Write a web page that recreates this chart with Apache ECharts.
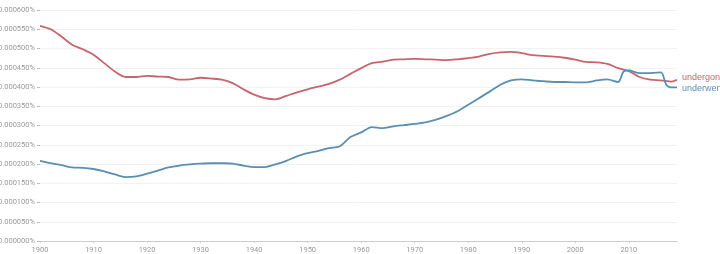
<!DOCTYPE html>
<html><head><meta charset="utf-8">
<script src="https://cdn.jsdelivr.net/npm/echarts@6/dist/echarts.min.js"></script>
<style>html,body{margin:0;padding:0;background:#fff}#c{width:720px;height:254px}</style>
</head><body><div id="c"></div>
<script>
const redYears = [1900,1902,1904,1906,1908,1910,1912,1914,1916,1918,1920,1922,1924,1926,1928,1930,1932,1934,1936,1938,1940,1942,1944,1946,1948,1950,1952,1954,1956,1958,1960,1962,1964,1966,1968,1970,1972,1974,1976,1978,1980,1982,1984,1986,1988,1990,1992,1994,1996,1998,2000,2002,2004,2006,2008,2010,2012,2014,2016,2018,2019];
const undergone = [0.000559,0.000550,0.000531,0.000510,0.000498,0.000484,0.000462,0.000440,0.000426,0.000426,0.000429,0.000427,0.000426,0.000419,0.000420,0.000424,0.000422,0.000419,0.000410,0.000394,0.000380,0.000371,0.000368,0.000377,0.000386,0.000394,0.000401,0.000408,0.000419,0.000434,0.000449,0.000462,0.000466,0.000471,0.000472,0.000473,0.000472,0.000471,0.000470,0.000472,0.000475,0.000479,0.000486,0.000490,0.000491,0.000488,0.000483,0.000481,0.000479,0.000476,0.000471,0.000465,0.000464,0.000460,0.000449,0.000441,0.000426,0.000419,0.000417,0.000414,0.000419];
const blueYears = [1900,1902,1904,1906,1908,1910,1912,1914,1916,1918,1920,1922,1924,1926,1928,1930,1932,1934,1936,1938,1940,1942,1944,1946,1948,1950,1952,1954,1956,1958,1960,1962,1964,1966,1968,1970,1972,1974,1976,1978,1980,1982,1984,1986,1988,1990,1992,1994,1996,1998,2000,2002,2004,2006,2008,2009,2010,2012,2014,2016,2017,2018,2019];
const underwent = [0.000208,0.000202,0.000197,0.000191,0.000190,0.000187,0.000181,0.000173,0.000166,0.000168,0.000175,0.000183,0.000191,0.000196,0.000199,0.000201,0.000202,0.000202,0.000201,0.000196,0.000192,0.000192,0.000199,0.000208,0.000220,0.000228,0.000234,0.000241,0.000246,0.000270,0.000282,0.000296,0.000293,0.000298,0.000301,0.000304,0.000308,0.000315,0.000325,0.000337,0.000354,0.000371,0.000388,0.000406,0.000417,0.000420,0.000417,0.000415,0.000413,0.000413,0.000412,0.000412,0.000417,0.000420,0.000413,0.000440,0.000443,0.000436,0.000436,0.000438,0.000406,0.000399,0.000399];
const seriesNames = ['undergone','underwent'];

const chart = echarts.init(document.getElementById('c'));
const pair = (xs, ys) => xs.map((x, i) => [x, ys[i]]);
chart.setOption({
  animation: false,
  backgroundColor: '#fff',
  grid: {left: 40, right: 43, top: 10, bottom: 13, containLabel: false, outerBoundsMode: 'none'},
  xAxis: {
    type: 'value', min: 1900, max: 2019, interval: 10,
    axisLine: {lineStyle: {color: '#cccccc'}},
    axisTick: {show: true, length: 2, lineStyle: {color: '#cccccc'}},
    axisLabel: {fontSize: 7.5, color: '#999', margin: 5, showMaxLabel: false, fontFamily: 'Roboto',
      formatter: v => String(v)},
    splitLine: {show: false}
  },
  yAxis: {
    type: 'value', min: 0, max: 0.0006, interval: 0.00005,
    axisLine: {show: false},
    axisTick: {show: true, length: 3, lineStyle: {color: '#bbb'}},
    axisLabel: {fontSize: 7.5, color: '#999', margin: 5, fontFamily: 'Roboto',
      formatter: v => v.toFixed(6) + '%'},
    splitLine: {lineStyle: {color: '#f2f2f2'}}
  },
  series: [
    {name: seriesNames[0], type: 'line', data: pair(redYears, undergone), smooth: 0.3, symbol: 'none',
     lineStyle: {color: '#c6656d', width: 1.8},
     endLabel: {show: true, formatter: '{a}', color: '#c6656d', fontSize: 9, distance: 5, offset: [0, -2]}},
    {name: seriesNames[1], type: 'line', data: pair(blueYears, underwent), smooth: 0.3, symbol: 'none',
     lineStyle: {color: '#5a8fb2', width: 1.8},
     endLabel: {show: true, formatter: '{a}', color: '#5a8fb2', fontSize: 9, distance: 5, offset: [0, 1]}}
  ]
});
</script></body></html>
